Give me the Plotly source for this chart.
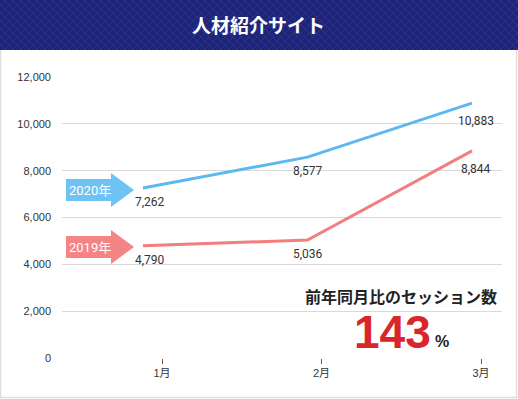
import plotly.graph_objects as go

# ---- data ----
months = ["1月", "2月", "3月"]
sessions_2020 = [7262, 8577, 10883]
sessions_2019 = [4790, 5036, 8844]
series_names = ["2020年", "2019年"]
y_ticks = [0, 2000, 4000, 6000, 8000, 10000, 12000]
title_text = "人材紹介サイト"
yoy_label = "前年同月比のセッション数"
yoy_value = "143"
yoy_unit = "%"

# ---- geometry helpers (pixel -> paper) ----
FW, FH = 518, 399
L, R, T, B = 62, 502, 77, 358
PW, PH = R - L, B - T


def px(x):
    return (x - L) / PW


def py(y):
    return (B - y) / PH


idx = list(range(len(months)))
blue_line = "#5cb9f0"
pink_line = "#f27e7e"
blue_arrow = "#6dc3f4"
pink_arrow = "#f58484"

fig = go.Figure()
# invisible trace anchoring the month axis
fig.add_trace(go.Scatter(x=idx, y=[None] * len(idx), mode="lines", xaxis="x",
                         yaxis="y", hoverinfo="skip", showlegend=False))
for vals, col in [(sessions_2020, blue_line), (sessions_2019, pink_line)]:
    fig.add_trace(go.Scatter(x=idx, y=vals, mode="lines", xaxis="x2", yaxis="y",
                             line=dict(color=col, width=3), hoverinfo="skip",
                             showlegend=False))

# value labels
annotations = []
xshifts = [7, 0, 4]
yshifts = [-14, -14, -18]
for vals in (sessions_2020, sessions_2019):
    for i, v in enumerate(vals):
        annotations.append(dict(x=i, y=v, xref="x2", yref="y", text=f"{v:,}",
                                showarrow=False, xshift=xshifts[i], yshift=yshifts[i],
                                font=dict(family="Roboto", size=12, color="#333333")))

shapes = []
# header band
shapes.append(dict(type="rect", xref="paper", yref="paper", x0=px(0), x1=px(FW),
                   y0=py(50), y1=py(0), fillcolor="#1e2476", line=dict(width=0),
                   layer="below"))
hatch = []
for k in range(-60, FW + 60, 8):
    hatch.append(f"M{px(k)},{py(0)} L{px(k + 50)},{py(50)}")
    hatch.append(f"M{px(k)},{py(50)} L{px(k + 50)},{py(0)}")
shapes.append(dict(type="path", xref="paper", yref="paper", path=" ".join(hatch),
                   line=dict(color="rgba(60,75,190,0.35)", width=1), layer="below"))
# card borders
border = (f"M{px(0.5)},{py(50)} L{px(0.5)},{py(397.5)} L{px(516.5)},{py(397.5)} "
          f"L{px(516.5)},{py(50)}")
shapes.append(dict(type="path", xref="paper", yref="paper", path=border,
                   line=dict(color="#dddddd", width=1.5), layer="below"))


def arrow(cy, color):
    pts = [(66, cy - 11), (111, cy - 11), (111, cy - 17), (134, cy), (111, cy + 17),
           (111, cy + 11), (66, cy + 11)]
    p = "M" + " L".join(f"{px(a)},{py(b)}" for a, b in pts) + " Z"
    return dict(type="path", xref="paper", yref="paper", path=p, fillcolor=color,
                line=dict(width=0), layer="above")


shapes.append(arrow(190, blue_arrow))
shapes.append(arrow(247, pink_arrow))
for name, cy in zip(series_names, [190, 247]):
    annotations.append(dict(x=px(90), y=py(cy), xref="paper", yref="paper", text=name,
                            showarrow=False, xanchor="center", yanchor="middle",
                            font=dict(family="Roboto, Noto Sans CJK JP", size=13,
                                      color="white")))

annotations.append(dict(x=px(258), y=py(25), xref="paper", yref="paper",
                        text=f"<b>{title_text}</b>", showarrow=False,
                        xanchor="center", yanchor="middle",
                        font=dict(family="Noto Sans CJK JP", size=19, color="white")))
annotations.append(dict(x=px(401), y=py(296), xref="paper", yref="paper",
                        text=f"<b>{yoy_label}</b>", showarrow=False,
                        xanchor="center", yanchor="middle",
                        font=dict(family="Noto Sans CJK JP", size=16, color="#222222")))
annotations.append(dict(x=px(392), y=py(332), xref="paper", yref="paper",
                        text=f"<b>{yoy_value}</b>", showarrow=False,
                        xanchor="center", yanchor="middle",
                        font=dict(family="Liberation Sans", size=46, color="#d9262b")))
annotations.append(dict(x=px(433), y=py(341), xref="paper", yref="paper",
                        text=f"<b>{yoy_unit}</b>", showarrow=False,
                        xanchor="left", yanchor="middle",
                        font=dict(family="Liberation Sans", size=16, color="#222222")))

fig.update_layout(
    width=FW, height=FH,
    margin=dict(l=L, r=FW - R, t=T, b=FH - B),
    paper_bgcolor="white", plot_bgcolor="white",
    showlegend=False,
    xaxis=dict(range=[-100 / 159.5, 2 + 21 / 159.5], tickvals=idx, ticktext=months,
               showgrid=False, zeroline=False, showline=False,
               ticks="outside", ticklen=5, tickwidth=1, tickcolor="#8b4a2b",
               tickfont=dict(family="Liberation Sans, Noto Sans CJK JP", size=11,
                             color="#333333")),
    xaxis2=dict(range=[-81 / 164.5, 2 + 30 / 164.5], overlaying="x", visible=False),
    yaxis=dict(range=[0, 12000], tickvals=y_ticks, tickformat=",",
               showgrid=True, gridcolor="#d9d9d9", gridwidth=1, zeroline=False,
               showline=False, ticks="", ticklabelstandoff=10,
               tickfont=dict(family="Liberation Sans", size=11, color="#333333")),
    shapes=shapes,
    annotations=annotations,
)

fig.write_html("out.html", config={"displayModeBar": False},
               post_script="document.body.style.margin='0';")
